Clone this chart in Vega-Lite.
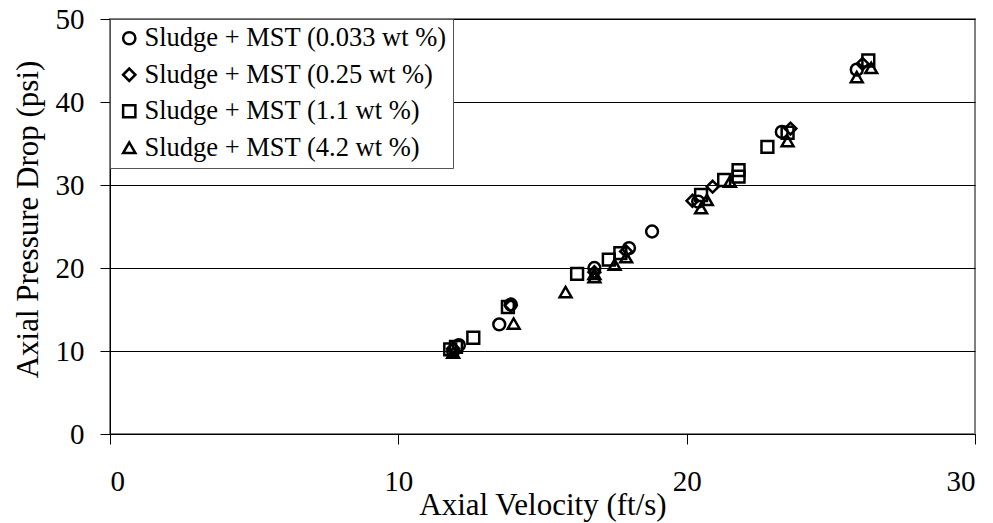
{
  "$schema": "https://vega.github.io/schema/vega-lite/v6.json",
  "width": 865,
  "height": 415,
  "autosize": {"type": "none"},
  "padding": {"left": 110, "top": 19, "right": 18, "bottom": 89},
  "background": "white",
  "config": {
    "font": "Liberation Serif",
    "view": {"stroke": "#808080", "strokeWidth": 2},
    "legend": {"labelFont": "Liberation Serif", "titleFont": "Liberation Serif"},
    "axis": {
      "labelFont": "Liberation Serif",
      "titleFont": "Liberation Serif",
      "labelColor": "black",
      "titleColor": "black",
      "titleFontWeight": "normal",
      "domainColor": "black",
      "tickColor": "black",
      "domainWidth": 1,
      "tickWidth": 1,
      "tickSize": 10,
      "labelFontSize": 29,
      "titleFontSize": 31
    }
  },
  "data": {
    "values": [
      {"series": "Sludge + MST (0.033 wt %)", "v": 11.9, "p": 10.0},
      {"series": "Sludge + MST (0.033 wt %)", "v": 12.1, "p": 10.7},
      {"series": "Sludge + MST (0.033 wt %)", "v": 13.5, "p": 13.2},
      {"series": "Sludge + MST (0.033 wt %)", "v": 13.9, "p": 15.6},
      {"series": "Sludge + MST (0.033 wt %)", "v": 16.8, "p": 20.0},
      {"series": "Sludge + MST (0.033 wt %)", "v": 18.0, "p": 22.4},
      {"series": "Sludge + MST (0.033 wt %)", "v": 18.8, "p": 24.4},
      {"series": "Sludge + MST (0.033 wt %)", "v": 20.4, "p": 28.0},
      {"series": "Sludge + MST (0.033 wt %)", "v": 23.3, "p": 36.4},
      {"series": "Sludge + MST (0.033 wt %)", "v": 25.9, "p": 43.9},
      {"series": "Sludge + MST (0.25 wt %)", "v": 11.9, "p": 10.3},
      {"series": "Sludge + MST (0.25 wt %)", "v": 13.9, "p": 15.5},
      {"series": "Sludge + MST (0.25 wt %)", "v": 16.8, "p": 19.5},
      {"series": "Sludge + MST (0.25 wt %)", "v": 17.9, "p": 22.0},
      {"series": "Sludge + MST (0.25 wt %)", "v": 20.2, "p": 28.1},
      {"series": "Sludge + MST (0.25 wt %)", "v": 20.9, "p": 29.8},
      {"series": "Sludge + MST (0.25 wt %)", "v": 23.6, "p": 36.8},
      {"series": "Sludge + MST (0.25 wt %)", "v": 26.1, "p": 44.6},
      {"series": "Sludge + MST (1.1 wt %)", "v": 11.8, "p": 10.2},
      {"series": "Sludge + MST (1.1 wt %)", "v": 12.0, "p": 10.5},
      {"series": "Sludge + MST (1.1 wt %)", "v": 12.6, "p": 11.6},
      {"series": "Sludge + MST (1.1 wt %)", "v": 13.8, "p": 15.3},
      {"series": "Sludge + MST (1.1 wt %)", "v": 16.2, "p": 19.3},
      {"series": "Sludge + MST (1.1 wt %)", "v": 17.3, "p": 21.0},
      {"series": "Sludge + MST (1.1 wt %)", "v": 17.7, "p": 21.8},
      {"series": "Sludge + MST (1.1 wt %)", "v": 20.5, "p": 28.8},
      {"series": "Sludge + MST (1.1 wt %)", "v": 21.3, "p": 30.6},
      {"series": "Sludge + MST (1.1 wt %)", "v": 21.8, "p": 31.8},
      {"series": "Sludge + MST (1.1 wt %)", "v": 21.8, "p": 31.0},
      {"series": "Sludge + MST (1.1 wt %)", "v": 22.8, "p": 34.6},
      {"series": "Sludge + MST (1.1 wt %)", "v": 23.5, "p": 36.3},
      {"series": "Sludge + MST (1.1 wt %)", "v": 26.3, "p": 45.0},
      {"series": "Sludge + MST (4.2 wt %)", "v": 11.9, "p": 9.8},
      {"series": "Sludge + MST (4.2 wt %)", "v": 14.0, "p": 13.3},
      {"series": "Sludge + MST (4.2 wt %)", "v": 15.8, "p": 17.1},
      {"series": "Sludge + MST (4.2 wt %)", "v": 16.8, "p": 18.9},
      {"series": "Sludge + MST (4.2 wt %)", "v": 16.8, "p": 19.3},
      {"series": "Sludge + MST (4.2 wt %)", "v": 17.5, "p": 20.4},
      {"series": "Sludge + MST (4.2 wt %)", "v": 17.9, "p": 21.3},
      {"series": "Sludge + MST (4.2 wt %)", "v": 20.5, "p": 27.2},
      {"series": "Sludge + MST (4.2 wt %)", "v": 20.7, "p": 28.2},
      {"series": "Sludge + MST (4.2 wt %)", "v": 21.5, "p": 30.4},
      {"series": "Sludge + MST (4.2 wt %)", "v": 23.5, "p": 35.3},
      {"series": "Sludge + MST (4.2 wt %)", "v": 25.9, "p": 43.0},
      {"series": "Sludge + MST (4.2 wt %)", "v": 26.4, "p": 44.1}
    ]
  },
  "mark": {"type": "point", "filled": false, "color": "black", "strokeWidth": 2.5, "size": 140, "opacity": 1},
  "encoding": {
    "x": {
      "field": "v", "type": "quantitative",
      "scale": {"domain": [0, 30], "nice": false},
      "axis": {
        "values": [0, 10, 20, 30], "grid": false, "labelPadding": 23,
        "title": "Axial Velocity (ft/s)", "titleY": 80, "titleBaseline": "alphabetic"
      }
    },
    "y": {
      "field": "p", "type": "quantitative",
      "scale": {"domain": [0, 50], "nice": false},
      "axis": {
        "values": [0, 10, 20, 30, 40, 50], "grid": true, "gridColor": "black", "gridWidth": 1, "gridOpacity": 1,
        "labelPadding": 16,
        "title": "Axial Pressure Drop (psi)", "titleX": -73, "titleY": 200, "titleBaseline": "alphabetic", "titleAngle": -90
      }
    },
    "shape": {
      "field": "series", "type": "nominal",
      "scale": {
        "domain": ["Sludge + MST (0.033 wt %)", "Sludge + MST (0.25 wt %)", "Sludge + MST (1.1 wt %)", "Sludge + MST (4.2 wt %)"],
        "range": ["circle", "diamond", "square", "triangle-up"]
      },
      "legend": {
        "orient": "none", "legendX": 0, "legendY": 0, "title": null,
        "fillColor": "white", "strokeColor": "#555555", "padding": 6,
        "labelFont": "Liberation Serif", "labelFontSize": 26.5, "labelColor": "black", "labelLimit": 0,
        "symbolSize": 150, "symbolStrokeWidth": 2.5, "symbolStrokeColor": "black", "symbolFillColor": "transparent",
        "rowPadding": 9.5, "labelOffset": 2
      }
    }
  }
}
